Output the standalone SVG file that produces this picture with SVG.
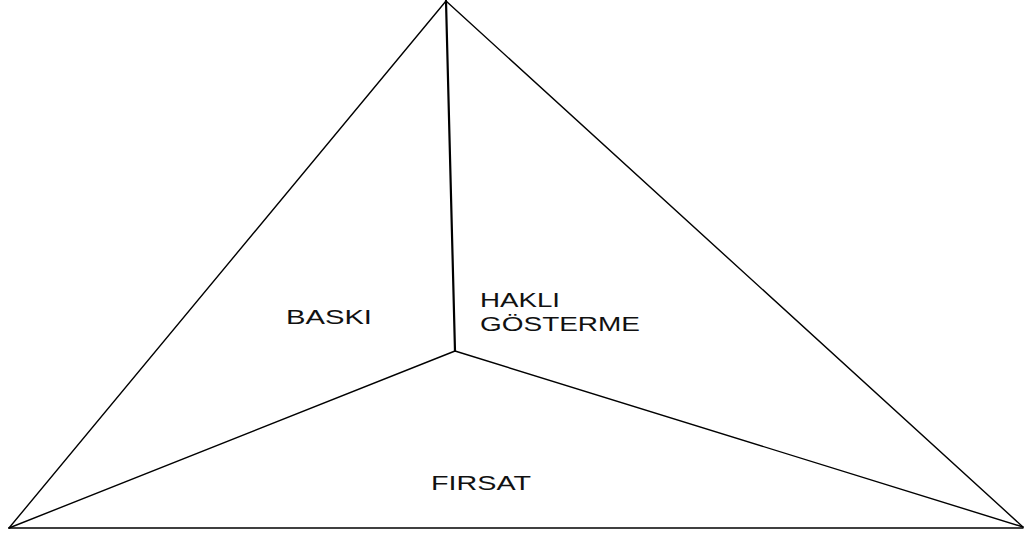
<svg xmlns="http://www.w3.org/2000/svg" width="1029" height="536" viewBox="0 0 1029 536">
<style>
.l{stroke:#000;stroke-width:1.4;fill:none;stroke-linecap:round}
.t{font-family:"Liberation Sans",Arial,sans-serif;font-size:21px;fill:#111}
</style>
<rect width="1029" height="536" fill="#fff"/>
<g id="connectors">
<line class="l" x1="446" y1="1" x2="9" y2="528"/>
<line class="l" x1="446" y1="1" x2="1023" y2="527"/>
<line class="l" x1="9" y1="528" x2="1023" y2="528"/>
<line class="l" x1="446" y1="1" x2="455" y2="351" style="stroke-width:2.2"/>
<line class="l" x1="455" y1="351" x2="9" y2="528"/>
<line class="l" x1="455" y1="351" x2="1023" y2="527"/>
</g>
<g id="baski"><text class="t" x="286" y="324" textLength="86" lengthAdjust="spacingAndGlyphs">BASKI</text></g>
<g id="hakli"><text class="t" x="480" y="307" textLength="80" lengthAdjust="spacingAndGlyphs">HAKLI</text><text class="t" x="480" y="331" textLength="160" lengthAdjust="spacingAndGlyphs">GÖSTERME</text></g>
<g id="firsat"><text class="t" x="431" y="490" textLength="100" lengthAdjust="spacingAndGlyphs">FIRSAT</text></g>
</svg>
